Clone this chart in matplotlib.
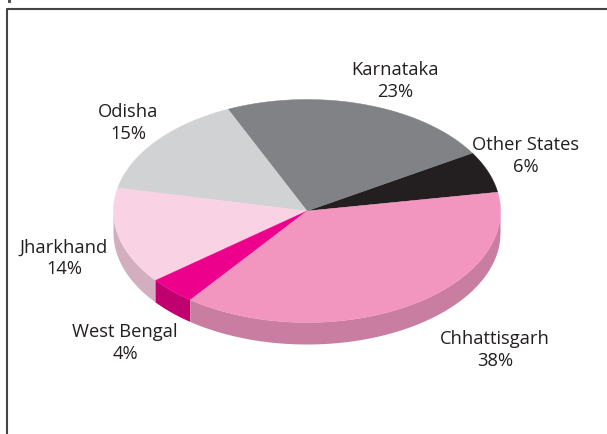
import numpy as np
import matplotlib.pyplot as plt
from matplotlib.patches import Polygon

# data (counter-clockwise from the start angle)
states = ["Other States", "Karnataka", "Odisha", "Jharkhand", "West Bengal", "Chhattisgarh"]
shares = [6, 23, 15, 14, 4, 38]
top_colors = ["#231f20", "#808285", "#d1d2d4", "#f9d3e3", "#ec008c", "#f295bf"]
side_colors = ["#1a1718", "#65676a", "#b0b1b3", "#d2aebf", "#c1006f", "#c97da0"]
label_xy = [(526, 156), (395, 81), (128, 123), (64, 258), (125, 343), (495, 350)]

cx, cy, a, b, depth = 307, 211, 193.5, 111.5, 22
start = 9.7

fig = plt.figure(figsize=(6.07, 4.34), dpi=100)
ax = fig.add_axes([0, 0, 1, 1])
ax.set_xlim(0, 607)
ax.set_ylim(434, 0)
ax.axis("off")

def arc(t0, t1, dy=0):
    t = np.radians(np.linspace(t0, t1, 120))
    return np.column_stack([cx + a * np.cos(t), cy - b * np.sin(t) + dy])

bounds = start + 360 * np.concatenate([[0], np.cumsum(shares)]) / sum(shares)

# side walls (front half only: 180..360 deg, with wrap)
for i in range(len(shares)):
    t0, t1 = bounds[i], bounds[i + 1]
    for off in (0, 360):
        lo, hi = max(t0, 180 + off), min(t1, 360 + off)
        if hi > lo:
            top = arc(lo, hi)
            bot = arc(hi, lo, depth)
            ax.add_patch(Polygon(np.vstack([top, bot]), closed=True,
                                 facecolor=side_colors[i], edgecolor="none"))

# top face
for i in range(len(shares)):
    pts = np.vstack([[cx, cy], arc(bounds[i], bounds[i + 1])])
    ax.add_patch(Polygon(pts, closed=True, facecolor=top_colors[i],
                         edgecolor=top_colors[i], linewidth=0.3))

for name, val, (x, y) in zip(states, shares, label_xy):
    ax.text(x, y, f"{name}\n{val}%", ha="center", va="center", fontsize=13.2,
            family="Open Sans", color="#231f20", linespacing=1.22)

# frame
ax.plot([7, 7, 607], [434, 9, 9], color="#444444", linewidth=1.5, solid_capstyle="butt")
ax.add_patch(Polygon([[8, 0], [11, 0], [11, 3], [8, 3]], closed=True,
                     facecolor="#555555", edgecolor="none"))

fig.savefig("out.png", dpi=100)
